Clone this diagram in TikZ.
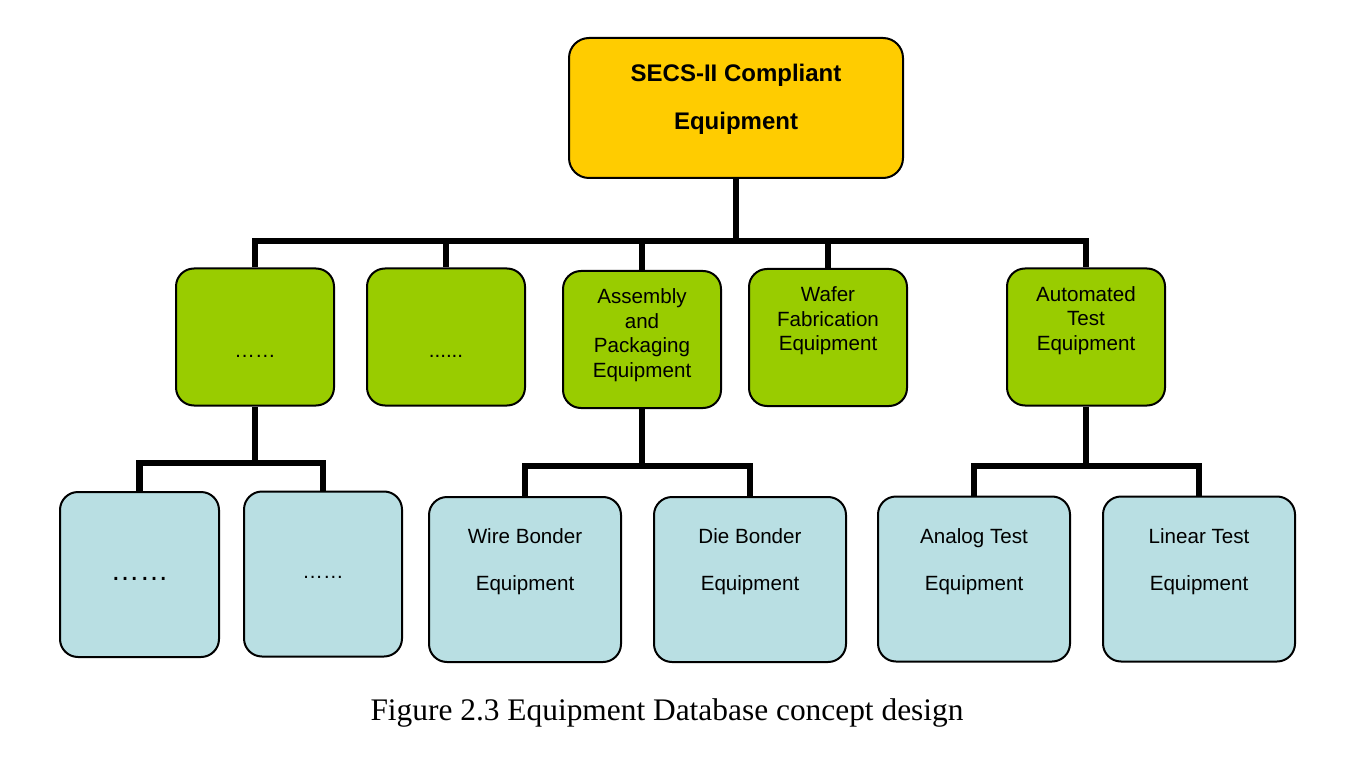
\documentclass[tikz,border=0pt]{standalone}
\usepackage{fontspec}
\setmainfont{Liberation Serif}
\setsansfont{Liberation Sans}
\usepackage{tikz}
\usetikzlibrary{positioning}
\usetikzlibrary{calc}
\definecolor{jaune}{HTML}{FFCC00}
\definecolor{vert}{HTML}{99CC00}
\definecolor{bleuclair}{HTML}{B9DFE3}

\begin{document}
\begin{tikzpicture}[x=0.5pt, y=-0.5pt, rootbox/.style={draw, line width=1pt, rounded corners=10pt, fill=jaune, minimum width=167pt, minimum height=70pt, inner sep=0pt}, groupbox/.style={draw, line width=1pt, rounded corners=9pt, fill=vert, minimum width=79pt, minimum height=68.5pt, inner sep=0pt}, leafbox/.style={draw, line width=1pt, rounded corners=9pt, fill=bleuclair, minimum width=96pt, minimum height=82.5pt, inner sep=0pt}, boxtext/.style={inner sep=0pt, align=center, font=\sffamily\fontsize{10.3}{12.25}\selectfont}, leaftext/.style={inner sep=0pt, align=center, font=\sffamily\fontsize{10.3}{23.5}\selectfont}, conn/.style={line width=3.25pt}]
		\useasboundingbox (0,0) rectangle (1352,780);
		
		\node[rootbox](root) at (736, 108) {};
		\node[groupbox](group0) at (255, 337) {};
		\node[groupbox](group1) at (446, 337) {};
		\node[groupbox](group2) at (642, 339.5) {};
		\node[groupbox](group3) at (828, 337.5) {};
		\node[groupbox](group4) at (1086, 337) {};
		\node[leafbox, minimum width=79.5pt](leaf0) at (139.5, 574.5) {};
		\node[leafbox, minimum width=79pt](leaf1) at (323, 574) {};
		\node[leafbox](leaf2) at (525, 579.5) {};
		\node[leafbox](leaf3) at (750, 579.5) {};
		\node[leafbox](leaf4) at (974, 579) {};
		\node[leafbox](leaf5) at (1199, 579) {};
		
		\node[inner sep=0pt, align=center, font=\sffamily\bfseries\fontsize{12}{24}\selectfont, below=13.3pt of root.north](roottext) {SECS-II Compliant\\Equipment};
		\node[boxtext, anchor=base](group0text) at (255, 357) {……};
		\node[boxtext, anchor=base](group1text) at (446, 357) {......};
		\node[boxtext, below=9.3pt of group2.north](group2text) {Assembly\\and\\Packaging\\Equipment};
		\node[boxtext, below=9.3pt of group3.north](group3text) {Wafer\\Fabrication\\Equipment};
		\node[boxtext, below=9.3pt of group4.north](group4text) {Automated\\Test\\Equipment};
		\node[boxtext, anchor=base, font=\sffamily\fontsize{14.5}{16}\selectfont](leaf0text) at (139.5, 580) {……};
		\node[boxtext, anchor=base](leaf1text) at (323, 578) {……};
		\node[leaftext, below=16.3pt of leaf2.north](leaf2text) {Wire Bonder\\Equipment};
		\node[leaftext, below=16.3pt of leaf3.north](leaf3text) {Die Bonder\\Equipment};
		\node[leaftext, below=16.3pt of leaf4.north](leaf4text) {Analog Test\\Equipment};
		\node[leaftext, below=16.3pt of leaf5.north](leaf5text) {Linear Test\\Equipment};
		
		\coordinate(bar0) at (736, 241);
		\coordinate(bar1) at (255, 463);
		\coordinate(bar2) at (642, 466);
		\coordinate(bar3) at (1086, 466);
		
		\draw[conn] (root.south) -- (bar0) -| (group0.north);
		\draw[conn] (bar0) -| (group1.north);
		\draw[conn] (bar0) -| (group2.north);
		\draw[conn] (bar0) -| (group3.north);
		\draw[conn] (bar0) -| (group4.north);
		\draw[conn] (group0.south) -- (bar1) -| (leaf0.north);
		\draw[conn] (bar1) -| (leaf1.north);
		\draw[conn] (group2.south) -- (bar2) -| (leaf2.north);
		\draw[conn] (bar2) -| (leaf3.north);
		\draw[conn] (group4.south) -- (bar3) -| (leaf4.north);
		\draw[conn] (bar3) -| (leaf5.north);
		
		\node[font=\fontsize{15.7}{18}\selectfont](caption) at (667, 713) {Figure 2.3 Equipment Database concept design};
		\end{tikzpicture}
\end{document}
